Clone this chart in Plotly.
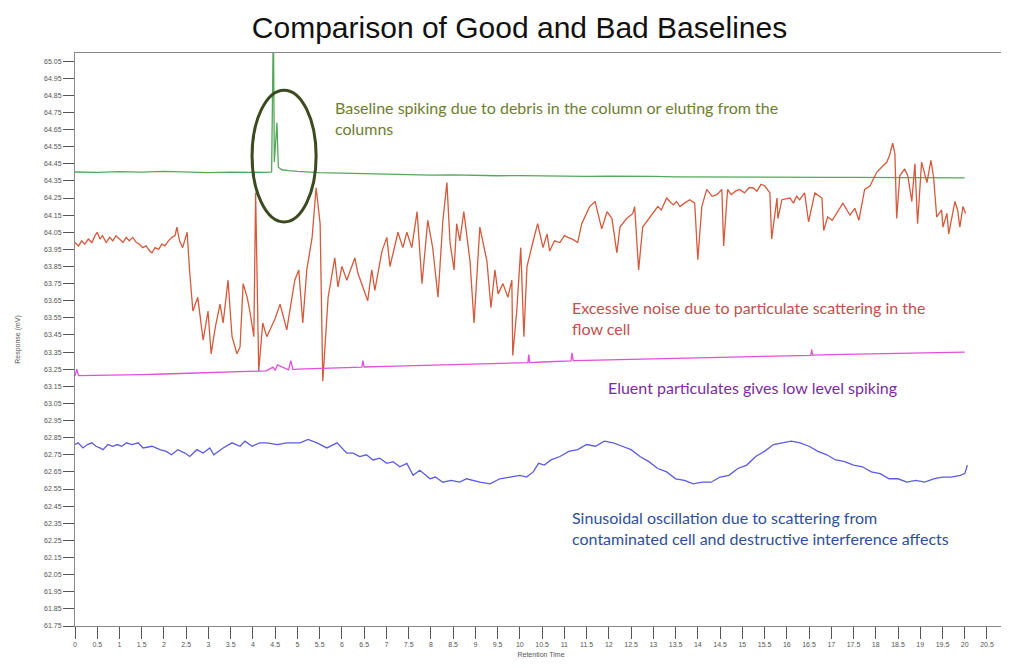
import plotly.graph_objects as go

# ---------------- data ----------------
green_x = [0.0, 0.5, 1.0, 1.5, 2.0, 2.5, 3.0, 3.5, 4.0, 4.3, 4.42, 4.44, 4.46, 4.48, 4.52, 4.54, 4.57, 4.65, 4.8, 5.0,
           5.5, 6.0, 6.5, 7.0, 7.5, 8.0, 8.5, 9.0, 9.5, 10.0, 10.5, 11.0, 11.5, 12.0, 12.5, 13.0, 13.5, 14.0,
           14.5, 15.0, 15.5, 16.0, 16.5, 17.0, 17.5, 18.0, 18.5, 19.0, 19.5, 20.0]
green_y = [64.402, 64.400, 64.404, 64.401, 64.405, 64.400, 64.398, 64.401, 64.399, 64.400, 64.402, 65.30, 65.30, 64.46, 64.60, 64.69, 64.43, 64.415, 64.41, 64.405,
           64.398, 64.395, 64.392, 64.390, 64.386, 64.384, 64.385, 64.382, 64.380, 64.381, 64.378, 64.377, 64.376, 64.378, 64.375, 64.376, 64.374, 64.373,
           64.374, 64.372, 64.373, 64.371, 64.372, 64.370, 64.371, 64.370, 64.371, 64.369, 64.370, 64.368]

red_x = [0.00, 0.08, 0.15, 0.22, 0.30, 0.38, 0.45, 0.50, 0.56, 0.62, 0.70, 0.78, 0.85, 0.92, 1.00, 1.08, 1.15, 1.22, 1.30, 1.38,
         1.45, 1.52, 1.60, 1.68, 1.73, 1.80, 1.88, 1.95, 2.02, 2.10, 2.18, 2.25, 2.29, 2.35, 2.42, 2.48, 2.52, 2.58, 2.65, 2.76,
         2.88, 2.99, 3.06, 3.15, 3.26, 3.33, 3.44, 3.53, 3.64, 3.71, 3.78, 3.87, 3.93, 4.02, 4.06, 4.13, 4.22, 4.31, 4.49, 4.61,
         4.76, 4.94, 5.03, 5.12, 5.21, 5.33, 5.42, 5.51, 5.57, 5.69, 5.84, 5.91, 6.00, 6.11, 6.29, 6.36, 6.47, 6.58, 6.67, 6.74,
         6.90, 7.01, 7.08, 7.26, 7.37, 7.46, 7.57, 7.69, 7.80, 7.93, 8.04, 8.16, 8.27, 8.36, 8.43, 8.52, 8.58, 8.65, 8.74, 8.88,
         8.97, 9.10, 9.26, 9.35, 9.44, 9.51, 9.62, 9.73, 9.82, 9.84, 9.93, 10.02, 10.09, 10.16, 10.29, 10.40, 10.52, 10.61, 10.67, 10.78,
         10.90, 11.00, 11.08, 11.18, 11.30, 11.39, 11.48, 11.57, 11.69, 11.75, 11.84, 11.96, 12.07, 12.18, 12.25, 12.40, 12.54, 12.58, 12.67, 12.76,
         12.92, 13.00, 13.10, 13.18, 13.30, 13.37, 13.45, 13.52, 13.60, 13.70, 13.82, 13.93, 14.00, 14.09, 14.20, 14.32, 14.43, 14.54, 14.58, 14.67,
         14.75, 14.85, 14.94, 15.05, 15.15, 15.24, 15.33, 15.42, 15.51, 15.62, 15.66, 15.78, 15.80, 15.89, 16.07, 16.15, 16.22, 16.29, 16.40, 16.49,
         16.63, 16.79, 16.83, 16.92, 17.02, 17.12, 17.26, 17.42, 17.53, 17.62, 17.75, 17.87, 18.02, 18.13, 18.25, 18.31, 18.38, 18.43, 18.47, 18.54,
         18.65, 18.72, 18.81, 18.88, 18.94, 19.03, 19.15, 19.24, 19.30, 19.37, 19.48, 19.51, 19.60, 19.64, 19.78, 19.84, 19.89, 19.96, 20.02]
red_y = [63.99, 63.97, 64.00, 63.98, 64.01, 63.99, 64.03, 64.05, 64.01, 64.03, 63.99, 64.02, 64.00, 64.03, 64.01, 63.99, 64.02, 64.00, 64.02, 63.99,
         63.98, 63.96, 63.97, 63.94, 63.93, 63.96, 63.95, 63.98, 63.97, 64.00, 64.02, 64.03, 64.08, 64.00, 63.96, 64.01, 64.05, 63.81, 63.59, 63.67,
         63.42, 63.59, 63.34, 63.49, 63.63, 63.52, 63.77, 63.44, 63.34, 63.38, 63.75, 63.67, 63.59, 63.44, 64.28, 63.24, 63.52, 63.44, 63.54, 63.63,
         63.48, 63.77, 63.83, 63.52, 63.83, 64.02, 64.31, 64.10, 63.18, 63.67, 63.90, 63.73, 63.85, 63.77, 63.90, 63.81, 63.73, 63.65, 63.83, 63.71,
         63.94, 64.02, 63.85, 64.05, 63.96, 64.05, 63.96, 64.17, 63.75, 64.12, 63.96, 63.67, 64.12, 64.34, 63.99, 63.83, 64.10, 64.00, 64.17, 63.88,
         63.52, 64.08, 63.88, 63.61, 63.83, 63.69, 63.75, 63.67, 63.77, 63.33, 63.59, 63.96, 63.44, 63.85, 63.99, 64.10, 63.96, 64.04, 63.94, 64.00,
         63.99, 64.03, 64.02, 64.01, 63.99, 64.10, 64.15, 64.20, 64.23, 64.16, 64.07, 64.17, 64.13, 63.93, 64.08, 64.13, 64.16, 64.20, 63.83, 64.08,
         64.14, 64.17, 64.20, 64.18, 64.25, 64.23, 64.21, 64.23, 64.20, 64.22, 64.24, 64.22, 63.89, 64.20, 64.30, 64.26, 64.27, 64.30, 63.97, 64.30,
         64.27, 64.29, 64.30, 64.28, 64.31, 64.31, 64.29, 64.33, 64.32, 64.28, 64.01, 64.25, 64.13, 64.24, 64.25, 64.22, 64.26, 64.24, 64.28, 64.11,
         64.28, 64.25, 64.06, 64.14, 64.12, 64.16, 64.22, 64.15, 64.19, 64.12, 64.30, 64.32, 64.40, 64.43, 64.46, 64.50, 64.57, 64.51, 64.13, 64.38,
         64.42, 64.38, 64.23, 64.45, 64.10, 64.46, 64.34, 64.47, 64.37, 64.14, 64.18, 64.08, 64.16, 64.04, 64.23, 64.18, 64.08, 64.20, 64.16]

pink_x = [0.0, 0.04, 0.08, 0.5, 1.0, 1.5, 2.0, 2.5, 3.0, 3.5, 4.0, 4.3, 4.45, 4.5, 4.55, 4.8, 4.85, 4.9, 5.0, 5.5,
          6.0, 6.45, 6.47, 6.5, 7.0, 7.5, 8.0, 8.5, 9.0, 9.5, 10.0, 10.18, 10.2, 10.22, 10.5, 11.0, 11.15, 11.17, 11.2, 11.5,
          12.0, 12.5, 13.0, 13.5, 14.0, 14.5, 15.0, 15.5, 16.0, 16.54, 16.56, 16.58, 17.0, 17.5, 18.0, 18.5, 19.0, 19.5, 20.0]
pink_y = [63.210, 63.250, 63.212, 63.213, 63.216, 63.218, 63.222, 63.226, 63.229, 63.233, 63.238, 63.240, 63.262, 63.243, 63.275, 63.246, 63.30, 63.248, 63.250, 63.255,
          63.258, 63.262, 63.30, 63.263, 63.267, 63.270, 63.273, 63.276, 63.279, 63.282, 63.286, 63.288, 63.335, 63.289, 63.292, 63.296, 63.298, 63.345, 63.300, 63.302,
          63.305, 63.308, 63.311, 63.314, 63.317, 63.319, 63.322, 63.325, 63.328, 63.331, 63.365, 63.332, 63.335, 63.337, 63.340, 63.342, 63.345, 63.347, 63.350]

blue_x = [0.0, 0.07, 0.18, 0.28, 0.38, 0.47, 0.56, 0.63, 0.74, 0.85, 0.95, 1.05, 1.16, 1.28, 1.42, 1.53, 1.73, 1.91, 2.05, 2.17,
          2.31, 2.47, 2.58, 2.74, 2.88, 3.03, 3.12, 3.33, 3.53, 3.71, 3.82, 3.98, 4.15, 4.31, 4.55, 4.76, 5.06, 5.24, 5.44, 5.66,
          5.89, 6.11, 6.25, 6.40, 6.55, 6.70, 6.85, 7.01, 7.15, 7.30, 7.46, 7.60, 7.75, 7.98, 8.10, 8.27, 8.45, 8.65, 8.80, 8.94,
          9.10, 9.33, 9.55, 9.78, 10.00, 10.15, 10.30, 10.42, 10.55, 10.70, 10.90, 11.10, 11.30, 11.50, 11.70, 11.90, 12.10, 12.30, 12.50, 12.70,
          12.90, 13.10, 13.30, 13.50, 13.70, 13.90, 14.10, 14.30, 14.50, 14.70, 14.90, 15.10, 15.30, 15.50, 15.70, 15.90, 16.10, 16.30, 16.50, 16.70,
          16.90, 17.10, 17.30, 17.50, 17.70, 17.90, 18.10, 18.30, 18.50, 18.70, 18.90, 19.10, 19.30, 19.50, 19.70, 19.90, 20.00, 20.06]
blue_y = [62.81, 62.82, 62.79, 62.81, 62.82, 62.80, 62.79, 62.78, 62.81, 62.80, 62.81, 62.80, 62.82, 62.81, 62.82, 62.79, 62.80, 62.78, 62.77, 62.75,
          62.78, 62.76, 62.74, 62.78, 62.76, 62.79, 62.75, 62.79, 62.82, 62.80, 62.83, 62.80, 62.82, 62.82, 62.81, 62.82, 62.82, 62.84, 62.82, 62.79,
          62.82, 62.76, 62.76, 62.74, 62.75, 62.72, 62.73, 62.70, 62.71, 62.68, 62.70, 62.63, 62.66, 62.61, 62.62, 62.59, 62.60, 62.59, 62.61, 62.60,
          62.59, 62.58, 62.61, 62.62, 62.63, 62.62, 62.65, 62.70, 62.69, 62.72, 62.74, 62.77, 62.78, 62.81, 62.80, 62.83, 62.82, 62.80, 62.78, 62.74,
          62.71, 62.67, 62.65, 62.61, 62.60, 62.58, 62.59, 62.59, 62.62, 62.63, 62.67, 62.69, 62.74, 62.77, 62.81, 62.82, 62.83, 62.82, 62.80, 62.77,
          62.75, 62.72, 62.71, 62.69, 62.68, 62.65, 62.64, 62.61, 62.61, 62.59, 62.60, 62.59, 62.61, 62.62, 62.62, 62.63, 62.64, 62.69]

x_ticks = [i * 0.5 for i in range(0, 42)]
x_tick_labels = ["0", "0.5", "1", "1.5", "2", "2.5", "3", "3.5", "4", "4.5", "5", "5.5", "6", "6.5", "7", "7.5",
                 "8", "8.5", "9", "9.5", "10", "10.5", "11", "11.5", "12", "12.5", "13", "13.5", "14", "14.5",
                 "15", "15.5", "16", "16.5", "17", "17.5", "18", "18.5", "19", "19.5", "20", "20.5"]
y_ticks = [round(61.75 + 0.1 * i, 2) for i in range(34)]
y_tick_labels = ["%.2f" % v for v in y_ticks]

# ---------------- figure ----------------
fig = go.Figure()
fig.add_trace(go.Scatter(x=green_x, y=green_y, mode="lines", line=dict(color="#55a85a", width=1.3), hoverinfo="skip"))
fig.add_trace(go.Scatter(x=red_x, y=red_y, mode="lines", line=dict(color="#d45a3c", width=1.3), hoverinfo="skip"))
fig.add_trace(go.Scatter(x=pink_x, y=pink_y, mode="lines", line=dict(color="#e24fd9", width=1.3), hoverinfo="skip"))
fig.add_trace(go.Scatter(x=blue_x, y=blue_y, mode="lines", line=dict(color="#5b5be0", width=1.3), hoverinfo="skip"))

fig.add_shape(type="circle", xref="x", yref="y", x0=3.98, x1=5.42, y0=64.11, y1=64.88,
              line=dict(color="#3b4a1f", width=3))

ann_font = "Lato, 'Open Sans', sans-serif"
fig.add_annotation(x=5.80, y=64.72, xref="x", yref="y", xanchor="left", yanchor="middle", align="left", showarrow=False,
                   text="Baseline spiking due to debris in the column or eluting from the<br>columns",
                   font=dict(family=ann_font, size=16, color="#6e7d32"))
fig.add_annotation(x=11.12, y=63.547, xref="x", yref="y", xanchor="left", yanchor="middle", align="left", showarrow=False,
                   text="Excessive noise due to particulate scattering in the<br>flow cell",
                   font=dict(family=ann_font, size=16, color="#c0504d"))
fig.add_annotation(x=11.93, y=63.144, xref="x", yref="y", xanchor="left", yanchor="middle", align="left", showarrow=False,
                   text="Eluent particulates gives low level spiking",
                   font=dict(family=ann_font, size=16, color="#7b2c9e"))
fig.add_annotation(x=11.12, y=62.32, xref="x", yref="y", xanchor="left", yanchor="middle", align="left", showarrow=False,
                   text="Sinusoidal oscillation due to scattering from<br>contaminated cell and destructive interference affects",
                   font=dict(family=ann_font, size=16, color="#2e4f9a"))

# page has an 8px body margin, so the figure is 8px smaller than the window
fig.update_layout(
    width=1001, height=662,
    margin=dict(l=67, r=2, t=45, b=44),
    paper_bgcolor="white", plot_bgcolor="white",
    showlegend=False,
    title=dict(text="Comparison of Good and Bad Baselines", x=0.511, xanchor="center", y=0.970, yanchor="middle",
               font=dict(family="Liberation Sans, Arial, sans-serif", size=30, color="#111111")),
)

fig.update_xaxes(range=[0, 20.95], tickmode="array", tickvals=x_ticks, ticktext=x_tick_labels,
                 ticks="outside", ticklen=12, tickcolor="#555555", tickwidth=1, automargin=False,
                 showline=True, linecolor="#888888", linewidth=1, mirror=True, showgrid=False, zeroline=False,
                 tickfont=dict(family="Liberation Sans, Arial", size=7, color="#555555"),
                 title=dict(text="Retention Time", font=dict(family="Liberation Sans, Arial", size=7, color="#555555"), standoff=4))
fig.update_yaxes(range=[61.75, 65.097], tickmode="array", tickvals=y_ticks, ticktext=y_tick_labels,
                 ticks="outside", ticklen=11, tickcolor="#555555", tickwidth=1, automargin=False,
                 showline=True, linecolor="#888888", linewidth=1, mirror=True, showgrid=False, zeroline=False,
                 tickfont=dict(family="Liberation Sans, Arial", size=7, color="#555555"),
                 title=dict(text="Response (mV)", font=dict(family="Liberation Sans, Arial", size=7, color="#555555"), standoff=22))

fig.write_html("out.html")
